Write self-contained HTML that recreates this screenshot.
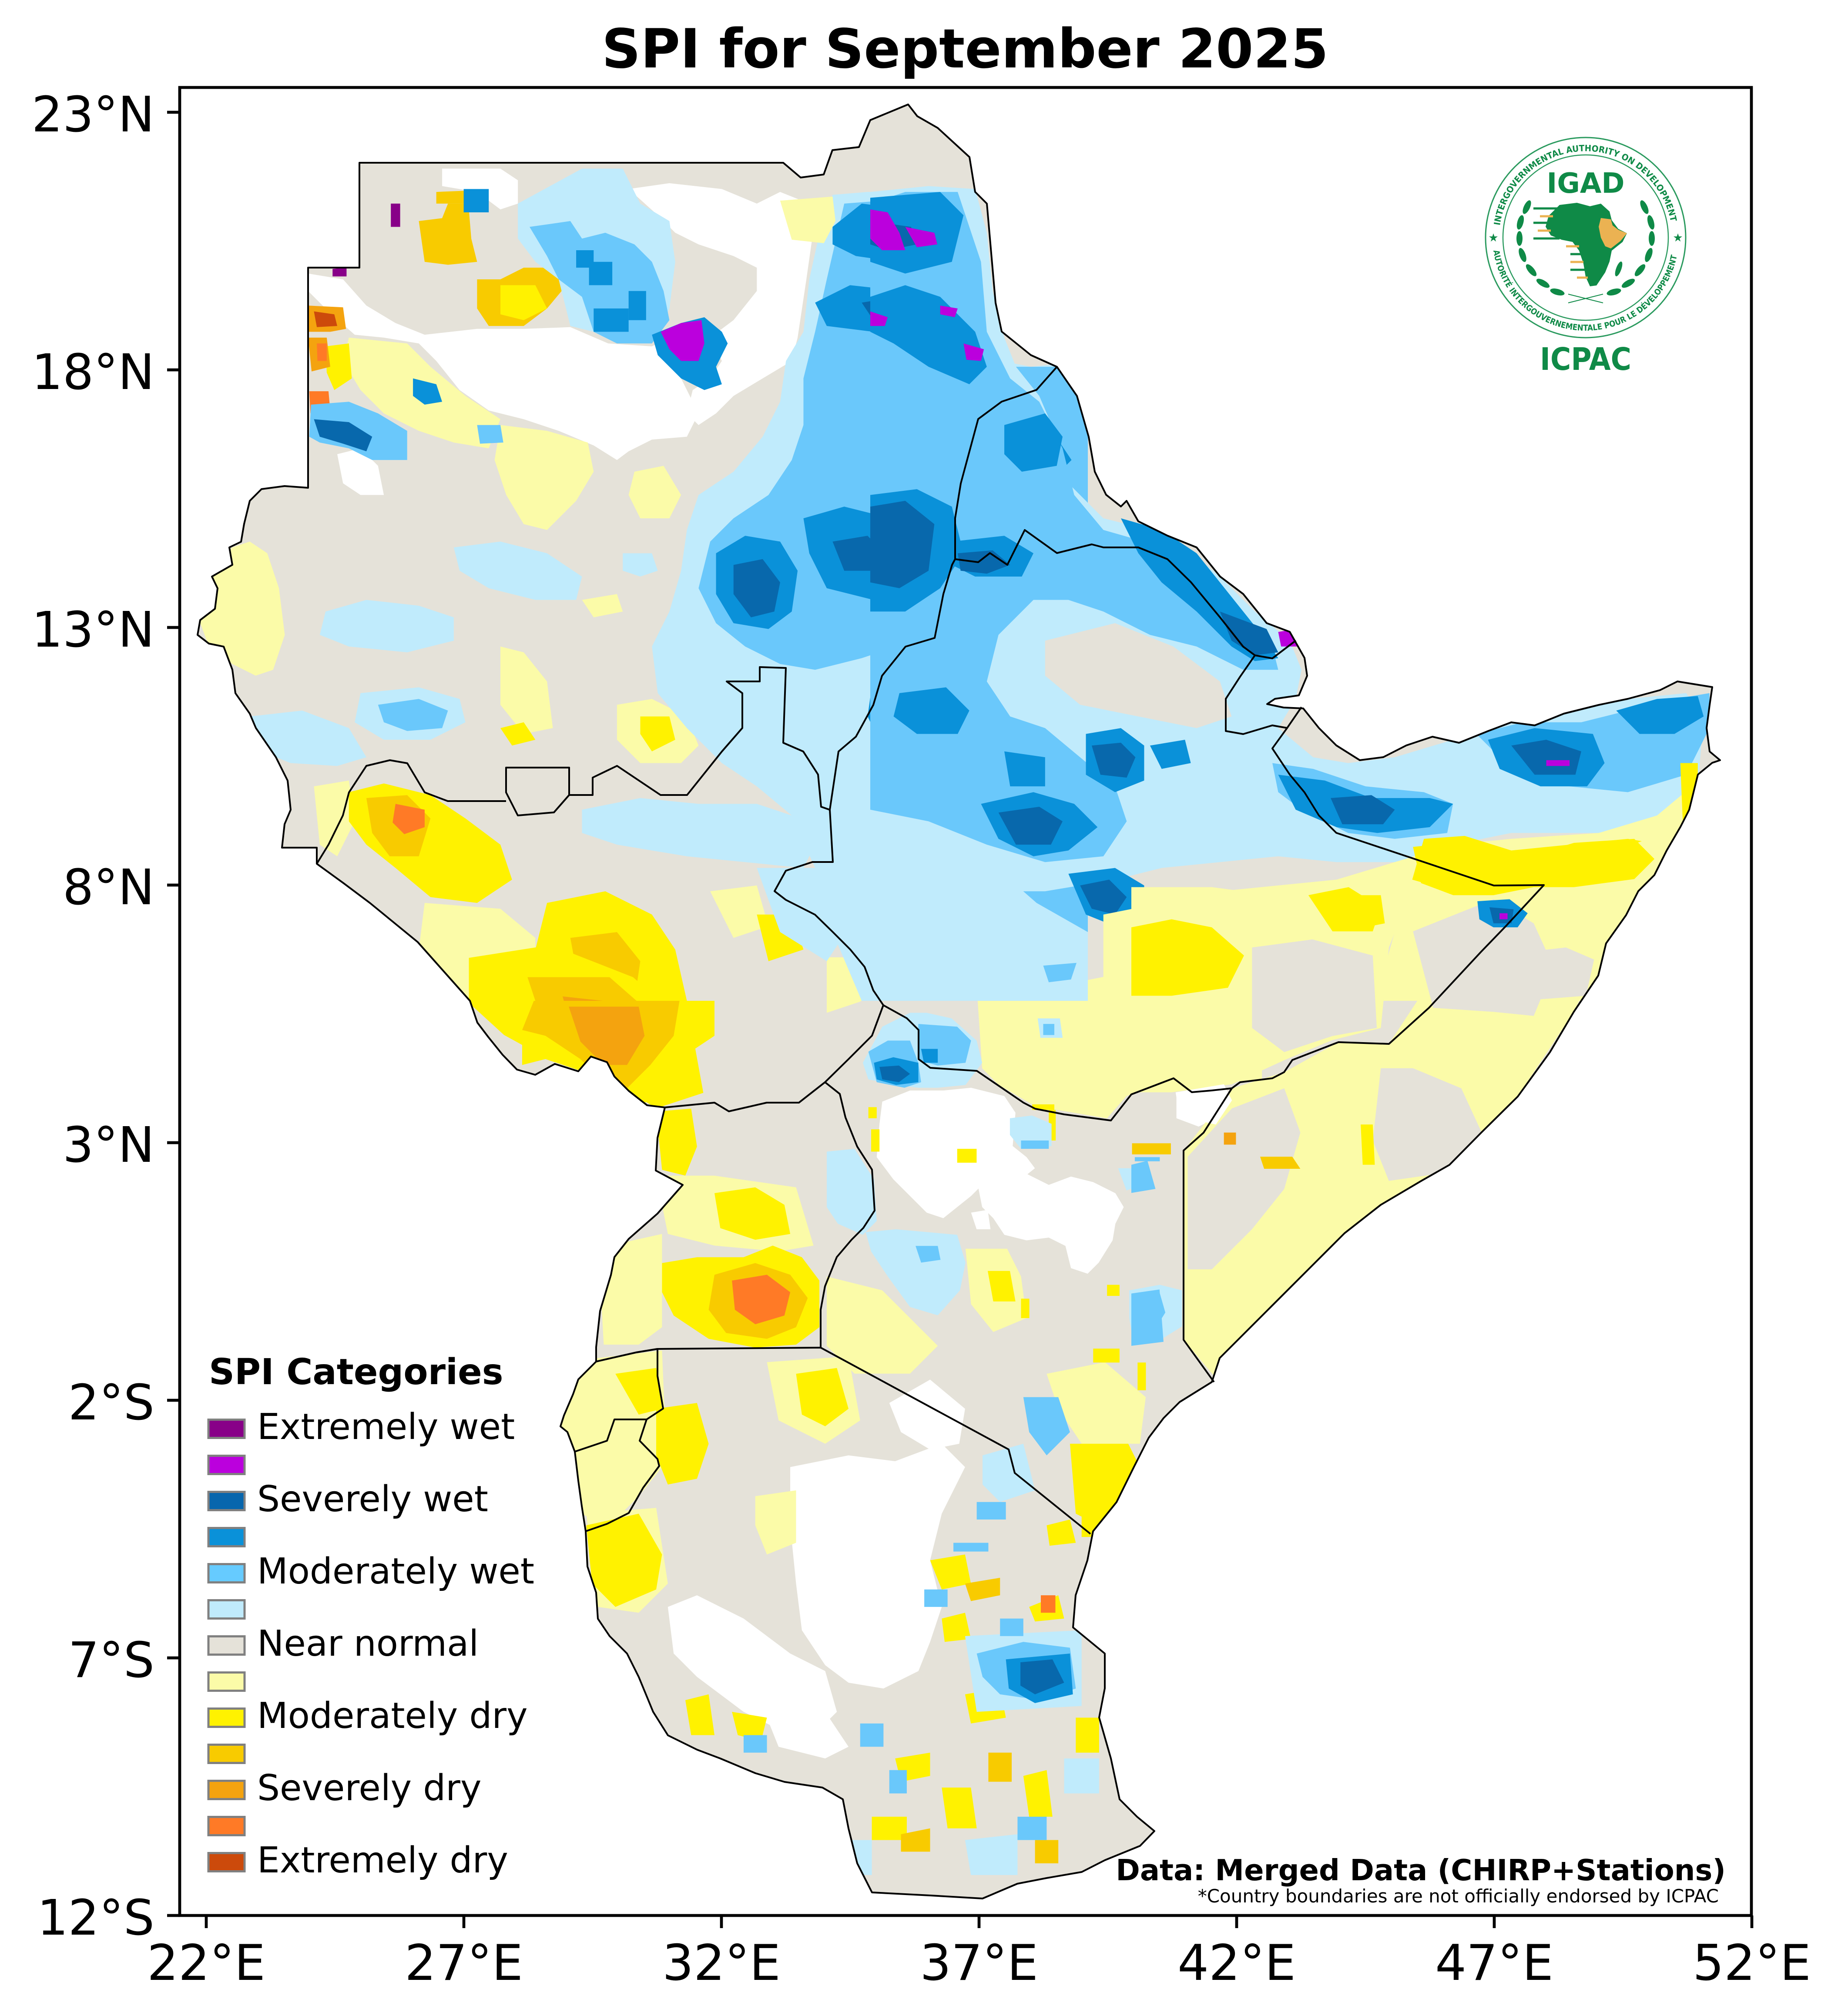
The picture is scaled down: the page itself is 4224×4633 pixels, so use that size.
<!DOCTYPE html>
<html><head><meta charset="utf-8">
<style>html,body{margin:0;padding:0;background:#fff;}svg{display:block;}</style>
</head><body>
<svg xmlns="http://www.w3.org/2000/svg" width="4224" height="4633" viewBox="0 0 4224 4633" font-family="'DejaVu Sans','Liberation Sans',sans-serif">
<style>
.wh{fill:#ffffff}.be{fill:#e5e2d9}.py{fill:#fbfba8}.y{fill:#fff200}.g{fill:#f8cb00}.o{fill:#f4a30f}.or{fill:#ff7a26}.r{fill:#cc4a0b}
.lb{fill:#c0ebfc}.sb{fill:#6ac8fb}.b{fill:#0a91d9}.db{fill:#0868ac}.m{fill:#bb00dd}.p{fill:#880088}
.bd{fill:none;stroke:#000;stroke-width:4;stroke-linejoin:round}
</style>
<defs>
<clipPath id="land"><path id="outl" d="M826,374 L1800,374 1840,408 1893,401 1913,345 1974,338 2000,276 2087,240 2108,267 2155,294 2228,361 2241,441 2268,468 2275,548 2288,696 2302,762 2369,816 2429,843 2475,910 2502,1004 2516,1084 2542,1137 2576,1164 2589,1151 2616,1198 2683,1231 2750,1258 2804,1325 2857,1365 2911,1432 2964,1452 2998,1512 3004,1553 2985,1598 2930,1606 2912,1618 2950,1626 2995,1628 3031,1673 3071,1713 3125,1747 3179,1740 3232,1713 3292,1693 3353,1707 3420,1680 3473,1660 3527,1667 3594,1640 3674,1620 3741,1606 3815,1586 3855,1566 3935,1579 3929,1620 3922,1673 3929,1727 3953,1747 3935,1753 3902,1780 3882,1861 3862,1900 3830,1955 3802,2011 3765,2048 3737,2103 3691,2168 3673,2242 3617,2325 3562,2418 3488,2520 3404,2603 3331,2677 3266,2714 3173,2769 3090,2834 3007,2917 2914,3010 2859,3065 2803,3121 2785,3176 2711,3222 2674,3259 2640,3304 2606,3371 2566,3452 2512,3519 2499,3586 2472,3666 2466,3740 2539,3800 2539,3880 2526,3947 2553,4041 2573,4135 2613,4175 2653,4208 2620,4242 2539,4275 2486,4302 2405,4316 2338,4329 2258,4363 2138,4356 2004,4349 1970,4282 1950,4202 1937,4135 1890,4108 1803,4095 1736,4075 1655,4041 1602,4021 1535,3988 1501,3934 1468,3854 1441,3800 1401,3760 1374,3720 1370,3660 1350,3600 1346,3519 1337,3461 1329,3403 1321,3336 1304,3291 1288,3278 1296,3253 1317,3204 1329,3170 1370,3129 1370,3096 1379,3013 1404,2930 1412,2889 1445,2847 1511,2789 1569,2723 1507,2690 1511,2615 1528,2545 1487,2540 1445,2507 1412,2474 1395,2441 1358,2428 1329,2462 1275,2445 1230,2470 1188,2458 1155,2424 1122,2383 1097,2350 1080,2300 1040,2255 1000,2210 960,2165 905,2120 850,2075 790,2030 728,1985 728,1948 648,1948 654,1894 668,1861 661,1794 634,1740 588,1673 574,1640 541,1593 534,1539 514,1486 480,1479 454,1459 460,1425 494,1399 500,1352 487,1325 534,1298 527,1258 554,1245 561,1204 574,1151 601,1124 654,1117 708,1121 708,615 826,615 Z"/></clipPath>
</defs>
<rect width="4224" height="4633" fill="#fff"/>

<text x="2218" y="155" font-size="124" font-weight="bold" text-anchor="middle">SPI for September 2025</text>

<g clip-path="url(#land)">
<use href="#outl" class="be"/>

<!-- ===== WHITE ===== -->
<g transform="translate(400,200) scale(1.3393)">
<polygon class="wh" points="230,320 290,330 330,375 380,405 430,425 520,415 600,415 680,412 745,440 820,445 850,430 870,445 865,490 885,530 900,560 880,600 820,605 780,625 760,640 720,615 660,590 600,570 540,555 490,520 450,470 420,440 360,430 310,425 270,390 230,350"/>
<polygon class="wh" points="780,175 850,165 940,175 1000,200 1040,180 1090,200 1095,260 1085,330 1070,430 1060,470 1010,500 960,530 930,560 900,580 880,560 890,520 920,500 940,470 920,430 960,400 1000,350 1000,310 960,290 900,270 860,250 830,220"/>
<polygon class="wh" points="460,140 560,140 590,160 590,200 560,210 520,180 460,170"/>
<polygon class="wh" points="280,630 320,620 350,650 360,700 320,700 290,680"/>
</g>
<g transform="translate(1900,2200) scale(0.6378)">
<polygon class="wh" points="200,520 300,480 420,480 520,470 640,500 680,560 670,680 720,720 750,760 700,800 620,790 560,820 520,860 470,900 420,940 360,920 300,860 240,800 180,720 190,600"/>
<polygon class="wh" points="540,800 640,760 720,780 800,820 880,790 960,810 1040,850 1070,900 1040,960 1030,1020 980,1100 940,1140 880,1120 860,1040 800,1010 720,1020 640,1000 600,940 560,900"/>
<polygon class="wh" points="1260,490 1330,480 1440,490 1420,540 1360,600 1340,610 1260,580"/>
<polygon class="wh" points="1390,350 1460,290 1480,330 1480,440 1400,450"/>
<polygon class="wh" points="520,920 580,910 590,980 540,980"/>
</g>
<g transform="translate(1200,2300) scale(1.3393)">
<polygon class="wh" points="460,800 560,780 640,790 720,760 760,800 720,880 700,960 720,1040 700,1100 680,1150 620,1180 560,1170 520,1140 480,1080 470,1000 460,900"/>
<polygon class="wh" points="630,690 700,650 760,700 750,760 700,770 650,740"/>
<polygon class="wh" points="250,1040 300,1020 380,1060 460,1120 520,1150 540,1220 500,1260 440,1250 380,1220 300,1160 260,1120"/>
<polygon class="wh" points="420,1230 520,1220 560,1280 520,1300 440,1280"/>
</g>

<!-- ===== PALE YELLOW / YELLOW / GOLD / ORANGE ===== -->
<g transform="translate(400,200) scale(1.3393)">
<polygon class="py" points="45,850 100,790 130,780 160,800 180,860 190,940 170,1000 140,1010 100,990 60,960 45,920"/>
<polygon class="py" points="300,430 400,440 440,480 500,530 560,570 540,620 480,610 420,590 360,560 320,520 290,470"/>
<polygon class="py" points="560,580 640,590 710,610 720,660 690,710 640,760 600,750 570,700 550,640"/>
<polygon class="py" points="790,660 840,650 870,700 850,740 800,740 780,700"/>
<polygon class="py" points="560,960 600,970 640,1020 650,1100 600,1110 560,1060"/>
<polygon class="py" points="760,1060 820,1050 880,1080 900,1130 870,1160 800,1160 760,1120"/>
<polygon class="py" points="700,880 760,870 770,900 720,910"/>
<polygon class="py" points="240,1200 300,1190 310,1260 280,1320 250,1300"/>
<polygon class="py" points="430,1400 560,1410 620,1460 620,1568 450,1568 420,1480"/>
<polygon class="py" points="920,1380 1000,1370 1020,1440 960,1460"/>
<polygon class="y" points="260,445 300,440 305,500 275,520 262,490"/>
<polygon class="y" points="800,1080 850,1080 860,1120 820,1140 800,1110"/>
<polygon class="y" points="300,1210 360,1195 440,1215 500,1255 560,1300 580,1360 520,1400 440,1390 380,1340 330,1300 300,1260"/>
<polygon class="y" points="640,1400 740,1380 820,1420 860,1480 880,1568 640,1568 620,1480"/>
<polygon class="y" points="1000,1420 1060,1420 1080,1480 1020,1500"/>
<polygon class="y" points="560,1100 600,1090 620,1120 580,1130"/>
<polygon class="g" points="420,230 460,225 470,200 505,200 510,260 520,300 470,305 430,300"/>
<polygon class="g" points="520,330 560,330 600,310 660,310 665,350 640,380 600,410 540,410 520,380"/>
<polygon class="y" points="560,340 620,340 640,380 600,400 560,390"/>
<polygon class="g" points="330,1220 400,1215 440,1255 420,1320 370,1320 340,1280"/>
<polygon class="g" points="680,1460 760,1450 800,1500 790,1568 700,1568"/>
<polygon class="g" points="450,180 500,178 500,200 450,200"/>
<polygon class="o" points="230,375 290,378 295,415 268,420 230,420"/>
<polygon class="o" points="230,430 262,430 268,480 236,488"/>
<polygon class="or" points="380,1230 430,1240 430,1270 395,1282 375,1262"/>
<polygon class="or" points="232,522 265,522 268,555 234,560"/>
<polygon class="or" points="245,440 262,440 262,470 246,470"/>
<polygon class="r" points="240,385 275,390 280,410 245,412"/>
<polygon class="p" points="372,200 388,200 388,240 372,240"/>
<polygon class="p" points="272,312 296,310 296,325 272,325"/>
</g>
<g transform="scale(2.6939,2.9547)">
<polygon class="y" points="400,745 470,735 540,760 590,800 600,850 560,862 520,840 470,825 430,805 400,780"/>
<polygon class="g" points="450,760 520,760 570,800 565,845 520,835 470,815"/>
<polygon class="o" points="480,775 530,780 550,820 520,830 490,810"/>
</g>
<g transform="translate(1200,2300) scale(1.3393)">
<polygon class="y" points="0,0 330,0 330,60 270,100 240,160 200,180 140,150 100,120 40,100 0,110"/>
<polygon class="g" points="20,0 270,0 260,60 220,110 180,150 140,140 100,100 40,60 0,50"/>
<polygon class="o" points="80,10 200,10 210,60 180,110 140,110 100,70"/>
<polygon class="py" points="150,420 240,400 240,560 200,590 140,590 135,500"/>
<polygon class="py" points="230,300 330,300 470,320 500,420 440,430 330,420 250,400"/>
<polygon class="y" points="230,190 290,185 300,250 280,300 240,290"/>
<polygon class="y" points="330,330 400,320 450,350 460,400 400,410 340,390"/>
<polygon class="y" points="240,450 300,440 380,440 430,420 480,440 510,480 510,560 470,590 400,595 320,580 260,540 240,500"/>
<polygon class="g" points="330,470 400,450 460,470 490,510 470,560 420,580 350,570 320,530"/>
<polygon class="or" points="360,480 420,470 460,500 450,540 400,555 365,530"/>
<polygon class="py" points="70,620 240,600 245,720 240,800 200,850 150,900 100,880 80,800 65,720"/>
<polygon class="y" points="160,640 230,630 240,700 200,710"/>
<polygon class="py" points="110,880 230,870 250,1000 200,1050 130,1040"/>
<polygon class="y" points="110,900 200,880 240,950 230,1010 160,1040 120,1000"/>
<polygon class="y" points="230,700 300,690 320,760 300,820 250,830 230,780"/>
<polygon class="py" points="420,620 560,610 580,720 520,760 440,720"/>
<polygon class="y" points="470,640 540,630 560,700 520,730 480,710"/>
<polygon class="py" points="400,850 470,840 470,930 420,950 400,900"/>
<polygon class="py" points="900,640 1000,620 1070,680 1060,760 960,760 920,700"/>
<polygon class="y" points="940,760 1040,760 1060,800 1030,860 990,900 950,880"/>
<polygon class="y" points="960,860 1010,860 1000,920 960,920"/>
<polygon class="y" points="700,960 760,950 770,1000 720,1010"/>
<polygon class="y" points="870,1040 920,1020 930,1060 880,1065"/>
<polygon class="y" points="720,1060 760,1050 770,1095 725,1100"/>
<polygon class="y" points="760,1190 820,1180 830,1230 770,1240"/>
<polygon class="y" points="640,1300 700,1290 700,1330 650,1340"/>
<polygon class="y" points="860,1330 900,1320 910,1400 870,1400"/>
<polygon class="y" points="720,1350 770,1350 780,1420 730,1420"/>
<polygon class="y" points="950,1230 990,1230 990,1290 950,1290"/>
<polygon class="y" points="900,900 940,890 950,930 905,935"/>
<polygon class="y" points="600,1400 660,1400 660,1440 600,1440"/>
<polygon class="y" points="280,1200 320,1190 330,1260 290,1260"/>
<polygon class="y" points="360,1220 420,1230 410,1270 370,1260"/>
<polygon class="g" points="760,1000 820,990 820,1020 770,1030"/>
<polygon class="g" points="650,1430 700,1420 700,1460 650,1460"/>
<polygon class="g" points="800,1290 840,1290 840,1340 800,1340"/>
<polygon class="g" points="880,1440 920,1440 920,1480 880,1480"/>
<polygon class="or" points="890,1020 915,1020 915,1050 890,1050"/>
</g>
<g transform="translate(1900,2200) scale(0.6378)">
<polygon class="py" points="540,100 700,120 900,90 1050,60 1568,160 1568,440 1450,450 1260,430 1080,500 1010,580 830,550 740,530 620,460 560,400"/>
<polygon class="py" points="0,1150 200,1200 300,1300 400,1400 300,1500 100,1500 0,1400"/>
<polygon class="py" points="500,1050 650,1050 700,1150 720,1300 600,1350 520,1250"/>
<polygon class="py" points="0,0 160,0 170,120 120,160 0,200"/>
<polygon class="y" points="1050,0 1568,0 1568,160 1450,170 1350,130 1300,250 1200,220 1100,160 1060,80"/>
<polygon class="y" points="1300,250 1340,230 1340,390 1300,380"/>
<polygon class="y" points="740,530 820,530 820,550 740,550"/>
<polygon class="y" points="800,550 825,550 825,660 800,660"/>
<polygon class="y" points="150,540 180,540 180,580 150,580"/>
<polygon class="y" points="160,620 190,620 190,700 160,700"/>
<polygon class="y" points="470,690 540,690 540,740 470,740"/>
<polygon class="y" points="700,1230 730,1230 730,1300 700,1300"/>
<polygon class="y" points="960,1410 1055,1410 1055,1460 960,1460"/>
<polygon class="y" points="1120,1460 1150,1460 1150,1560 1120,1560"/>
<polygon class="y" points="580,1130 660,1130 680,1240 600,1240"/>
<polygon class="y" points="1010,1180 1055,1180 1055,1220 1010,1220"/>
<polygon class="g" points="1100,670 1240,670 1240,710 1100,710"/>
<polygon class="o" points="1430,620 1470,620 1470,665 1430,665"/>
<polygon class="o" points="1200,460 1240,460 1240,480 1200,480"/>
</g>

<!-- ===== BLUES ===== -->
<g transform="translate(400,200) scale(1.3393)">
<polygon class="lb" points="590,200 700,140 770,140 800,200 850,230 860,300 850,380 830,420 760,440 720,420 680,410 660,330 620,300 590,260"/>
<polygon class="lb" points="1050,470 1080,420 1090,330 1110,240 1130,185 1190,180 1290,180 1365,200 1380,320 1400,400 1420,470 1470,480 1568,470 1568,1568 1180,1568 1130,1450 1100,1340 1060,1250 1000,1200 940,1160 880,1100 830,1040 820,960 850,900 870,830 880,760 900,700 960,660 1010,600 1040,540"/>
<polygon class="lb" points="480,790 560,780 640,800 700,840 690,880 620,880 540,860 490,830"/>
<polygon class="lb" points="260,900 330,880 420,890 480,910 480,950 400,970 300,960 250,940"/>
<polygon class="lb" points="320,1040 420,1030 490,1050 500,1090 440,1120 360,1120 310,1090"/>
<polygon class="lb" points="130,1080 220,1070 300,1100 330,1150 280,1165 200,1160 150,1140"/>
<polygon class="lb" points="700,1240 800,1220 900,1230 1000,1230 1060,1250 1100,1300 1080,1340 980,1330 880,1320 760,1300 700,1280"/>
<polygon class="lb" points="1000,1340 1100,1340 1160,1440 1120,1500 1040,1450"/>
<polygon class="lb" points="770,800 820,800 830,830 800,840 770,830"/>
<polygon class="sb" points="610,240 680,230 700,260 740,250 790,270 820,300 840,350 850,400 820,440 760,440 720,420 700,360 660,330 640,290"/>
<polygon class="sb" points="1080,500 1100,420 1120,330 1150,200 1280,190 1350,210 1380,300 1400,400 1420,480 1500,480 1568,480 1568,1200 1500,1230 1420,1230 1340,1160 1300,1100 1280,1000 1240,960 1180,980 1100,1000 1040,990 980,960 930,920 900,860 920,780 960,740 1020,700 1060,640 1080,580"/>
<polygon class="sb" points="350,1060 420,1050 470,1070 460,1100 400,1105 360,1090"/>
<polygon class="sb" points="235,545 300,540 350,560 400,590 400,640 340,640 300,620 250,610 232,600"/>
<polygon class="sb" points="520,580 560,580 565,610 525,612"/>
<polygon class="sb" points="1300,1250 1400,1220 1568,1200 1568,1450 1480,1400 1400,1330"/>
<polygon class="b" points="497,175 540,175 540,215 497,215"/>
<polygon class="b" points="720,380 780,380 780,420 720,420"/>
<polygon class="b" points="712,300 752,300 752,340 712,340"/>
<polygon class="b" points="780,350 810,350 810,400 780,400"/>
<polygon class="b" points="690,280 720,280 720,310 690,310"/>
<polygon class="b" points="820,425 870,405 910,395 940,420 950,440 930,480 940,510 910,520 870,500 850,480 830,460"/>
<polygon class="b" points="410,500 450,510 460,540 430,545 410,530"/>
<polygon class="b" points="1130,240 1180,200 1260,210 1330,190 1360,250 1350,300 1300,320 1240,300 1170,290 1130,270"/>
<polygon class="b" points="1100,370 1160,340 1250,350 1330,380 1380,420 1400,470 1350,490 1280,470 1200,420 1120,410"/>
<polygon class="b" points="1220,500 1290,490 1340,520 1340,570 1280,570 1230,550"/>
<polygon class="b" points="930,800 980,770 1040,780 1070,830 1060,900 1020,930 960,920 930,870"/>
<polygon class="b" points="1080,740 1150,720 1230,740 1300,770 1320,830 1290,870 1200,880 1120,860 1090,800"/>
<polygon class="b" points="1340,580 1420,560 1500,580 1540,640 1500,680 1420,670 1360,640"/>
<polygon class="b" points="1350,750 1420,740 1500,760 1540,800 1520,840 1450,850 1370,820"/>
<polygon class="b" points="1200,1010 1260,1000 1320,1040 1320,1110 1280,1150 1220,1140 1190,1080"/>
<polygon class="b" points="1370,1020 1450,1000 1520,1040 1530,1100 1480,1130 1400,1120 1370,1070"/>
<polygon class="b" points="1380,1200 1460,1180 1540,1200 1568,1230 1568,1320 1500,1300 1420,1280 1390,1240"/>
<polygon class="b" points="1440,890 1520,880 1568,900 1568,960 1500,960 1450,940"/>
<polygon class="db" points="960,820 1010,810 1040,850 1030,900 990,910 960,870"/>
<polygon class="db" points="1130,780 1190,770 1220,800 1200,830 1150,830"/>
<polygon class="db" points="1180,370 1240,360 1300,390 1300,420 1250,420 1200,400"/>
<polygon class="db" points="1260,440 1330,440 1370,470 1340,490 1280,480"/>
<polygon class="db" points="1200,220 1250,215 1290,250 1250,270 1210,260"/>
<polygon class="db" points="1250,1050 1300,1060 1300,1120 1260,1120"/>
<polygon class="db" points="1410,1230 1480,1220 1540,1240 1520,1280 1450,1280"/>
<polygon class="db" points="1400,1040 1460,1040 1480,1080 1440,1100 1400,1080"/>
<polygon class="db" points="1350,770 1400,760 1420,800 1380,815 1350,800"/>
<polygon class="db" points="240,570 300,575 340,600 330,625 290,612 250,600"/>
<polygon class="m" points="835,420 870,405 905,400 910,440 900,470 870,470 850,450"/>
<polygon class="m" points="1195,205 1225,210 1250,245 1240,280 1210,275 1200,245"/>
<polygon class="m" points="1270,240 1300,245 1310,270 1285,275"/>
<polygon class="m" points="1195,390 1225,395 1225,410 1200,410"/>
<polygon class="m" points="1360,440 1385,450 1390,470 1365,468"/>
<polygon class="m" points="1380,800 1420,795 1420,815 1385,818"/>
<polygon class="py" points="1040,195 1130,188 1135,230 1115,268 1060,262"/>
</g>
<g transform="translate(2000,200) scale(1.3393)">
<polygon class="lb" points="0,180 100,170 180,175 200,250 210,350 230,430 250,480 290,530 320,600 340,680 400,740 480,760 540,790 600,840 660,900 720,950 740,1000 730,1050 700,1100 760,1150 820,1160 900,1150 1000,1120 1100,1090 1200,1070 1300,1050 1400,1040 1430,1080 1420,1200 1380,1260 1300,1280 1100,1280 1000,1300 900,1330 800,1330 700,1320 600,1330 500,1340 420,1360 300,1380 200,1380 100,1360 0,1340"/>
<polygon class="be" points="300,950 420,920 520,960 600,1020 620,1080 560,1100 460,1080 360,1060 300,1010"/>
<polygon class="sb" points="0,200 60,180 150,180 190,300 200,420 240,500 290,540 330,620 350,700 400,760 470,780 520,800 580,850 640,920 690,960 700,1000 640,1000 560,960 480,940 400,900 340,880 280,880 220,940 200,1020 240,1080 300,1100 360,1150 420,1200 440,1260 400,1320 300,1330 200,1300 100,1260 0,1240"/>
<polygon class="sb" points="690,1160 760,1170 850,1200 950,1210 1000,1230 990,1280 900,1290 820,1280 740,1240 700,1210"/>
<polygon class="sb" points="1040,1110 1120,1090 1220,1090 1300,1070 1380,1050 1440,1040 1440,1100 1400,1180 1300,1210 1200,1200 1100,1170"/>
<polygon class="b" points="0,190 120,180 160,220 140,300 60,320 0,300"/>
<polygon class="b" points="0,360 60,340 120,360 180,420 200,480 170,510 100,480 40,440 0,420"/>
<polygon class="b" points="230,580 300,560 330,600 320,650 260,660 230,630"/>
<polygon class="b" points="0,700 80,690 140,720 160,800 120,860 60,900 0,900"/>
<polygon class="b" points="140,780 230,770 280,800 260,840 180,840 140,820"/>
<polygon class="b" points="430,740 500,760 560,800 600,850 640,900 680,950 700,980 660,985 620,960 560,900 500,850 460,800"/>
<polygon class="b" points="370,1110 430,1100 470,1130 470,1190 420,1210 370,1180"/>
<polygon class="b" points="480,1130 540,1120 550,1160 500,1170"/>
<polygon class="b" points="190,1230 280,1210 350,1230 390,1270 340,1310 280,1320 220,1290"/>
<polygon class="b" points="340,1350 420,1340 470,1370 470,1420 420,1440 370,1420"/>
<polygon class="b" points="50,1040 130,1030 170,1070 150,1110 80,1110 40,1080"/>
<polygon class="b" points="700,1180 780,1190 860,1220 960,1220 1000,1230 960,1270 870,1280 800,1270 730,1240"/>
<polygon class="b" points="1060,1120 1140,1100 1240,1110 1260,1160 1230,1200 1150,1200 1080,1170"/>
<polygon class="b" points="1280,1070 1350,1050 1420,1045 1430,1080 1380,1110 1320,1110"/>
<polygon class="b" points="230,1140 300,1150 300,1200 240,1200"/>
<polygon class="db" points="0,720 60,710 110,750 100,830 50,860 0,850"/>
<polygon class="db" points="150,800 210,795 240,820 200,835 155,830"/>
<polygon class="db" points="380,1130 430,1125 455,1150 440,1185 395,1180"/>
<polygon class="db" points="220,1245 290,1235 330,1260 310,1300 250,1300"/>
<polygon class="db" points="360,1370 410,1360 440,1390 420,1420 380,1410"/>
<polygon class="db" points="790,1220 860,1215 900,1240 880,1265 810,1265"/>
<polygon class="db" points="1100,1130 1160,1120 1220,1140 1210,1180 1140,1180"/>
<polygon class="db" points="0,230 70,240 80,270 30,280 0,270"/>
<polygon class="db" points="600,900 680,930 700,970 660,975 620,950"/>
<polygon class="m" points="0,210 30,215 50,250 60,280 20,280 0,260"/>
<polygon class="m" points="60,240 110,250 115,270 80,275"/>
<polygon class="m" points="0,385 30,395 25,410 0,410"/>
<polygon class="m" points="160,440 195,450 190,470 165,468"/>
<polygon class="m" points="120,375 150,380 145,395 120,390"/>
<polygon class="m" points="700,935 730,930 735,960 705,960"/>
<polygon class="m" points="1160,1155 1200,1155 1200,1165 1160,1165"/>
</g>
<g transform="translate(1900,2200) scale(0.6378)">
<polygon class="lb" points="130,380 200,250 300,200 360,200 450,220 540,300 560,380 500,460 400,470 330,470 250,460 150,440"/>
<polygon class="lb" points="0,700 100,690 170,800 180,950 130,1000 40,960 0,900"/>
<polygon class="lb" points="140,990 250,980 360,990 470,1000 500,1100 480,1200 400,1290 300,1260 220,1150 160,1060"/>
<polygon class="lb" points="1050,760 1120,760 1140,820 1080,840"/>
<polygon class="lb" points="1090,1200 1200,1180 1280,1200 1280,1330 1200,1380 1100,1360 1090,1300"/>
<polygon class="lb" points="660,580 740,570 810,600 810,680 700,690 660,640"/>
<polygon class="lb" points="720,0 930,0 930,60 800,100 720,80"/>
<polygon class="lb" points="760,220 840,220 850,290 770,290"/>
<polygon class="sb" points="150,340 220,300 300,300 330,380 340,450 280,470 180,450"/>
<polygon class="sb" points="330,240 470,250 520,300 500,380 400,390 330,370"/>
<polygon class="sb" points="320,1040 400,1040 410,1090 340,1100"/>
<polygon class="sb" points="1120,1220 1200,1210 1220,1280 1170,1360 1120,1340"/>
<polygon class="sb" points="780,30 900,20 880,80 800,90"/>
<polygon class="sb" points="780,240 820,240 820,280 780,280"/>
<polygon class="sb" points="1110,720 1200,720 1200,735 1110,735"/>
<polygon class="sb" points="700,660 800,660 800,690 700,690"/>
<polygon class="b" points="170,380 240,360 330,380 330,450 250,460 180,440"/>
<polygon class="b" points="340,330 400,330 400,380 350,380"/>
<polygon class="db" points="190,395 260,390 300,420 260,450 200,440"/>
</g>
<g transform="translate(1200,2300) scale(1.3393)">
<polygon class="lb" points="790,780 860,760 880,840 820,860 790,830"/>
<polygon class="lb" points="520,1440 600,1440 600,1500 520,1500"/>
<polygon class="lb" points="930,1300 990,1300 990,1360 930,1360"/>
<polygon class="lb" points="760,1440 850,1430 850,1500 770,1500"/>
<polygon class="lb" points="760,1090 960,1080 960,1210 780,1220"/>
<polygon class="sb" points="740,930 800,930 800,945 740,945"/>
<polygon class="sb" points="820,1060 860,1060 860,1090 820,1090"/>
<polygon class="sb" points="580,1240 620,1240 620,1280 580,1280"/>
<polygon class="sb" points="690,1010 730,1010 730,1040 690,1040"/>
<polygon class="sb" points="780,860 830,860 830,890 780,890"/>
<polygon class="sb" points="850,1400 900,1400 900,1440 850,1440"/>
<polygon class="sb" points="630,1320 660,1320 660,1360 630,1360"/>
<polygon class="sb" points="380,1260 420,1260 420,1290 380,1290"/>
<polygon class="sb" points="860,680 920,680 940,740 900,780 870,740"/>
<polygon class="sb" points="780,1120 860,1100 940,1110 950,1180 890,1200 820,1190 790,1160"/>
<polygon class="b" points="830,1130 940,1120 945,1190 880,1205 835,1180"/>
<polygon class="db" points="855,1135 910,1130 930,1170 880,1190 855,1175"/>
</g>

<!-- ===== TOP LAYER: Ogaden / Somalia yellows ===== -->
<g transform="translate(2000,200) scale(1.3393)">
<polygon class="py" points="400,1420 600,1380 800,1360 900,1330 1000,1300 1100,1290 1250,1280 1350,1250 1410,1200 1420,1300 1380,1400 1330,1500 1280,1568 400,1568"/>
<polygon class="be" points="700,1440 820,1420 900,1450 880,1520 780,1540 700,1510"/>
<polygon class="y" points="460,1480 540,1430 620,1400 680,1410 680,1500 640,1568 460,1568"/>
<polygon class="y" points="950,1290 1020,1285 1100,1310 1200,1300 1300,1290 1360,1300 1320,1350 1200,1360 1100,1370 1000,1380 930,1360"/>
<polygon class="y" points="840,1380 880,1375 880,1430 840,1430"/>
<polygon class="y" points="1390,1160 1420,1160 1420,1290 1395,1280"/>
<polygon class="g" points="600,1480 650,1480 660,1568 610,1568"/>
</g>
<g transform="translate(2600,1900) scale(0.9247)">
<polygon class="py" points="0,150 200,150 350,170 500,150 640,110 700,150 640,300 620,500 500,530 380,580 250,640 100,660 0,660"/>
<polygon class="py" points="640,540 900,145 1025,145 1100,100 1230,50 1365,0 1330,60 1260,160 1180,290 1100,460 960,670 800,840 620,940 440,1100 300,1250 210,1370 130,1275 130,805 250,650 380,610 515,535"/>
<polygon class="be" points="300,300 450,280 600,320 610,500 500,520 380,560 300,500"/>
<polygon class="be" points="700,260 900,180 1000,240 1050,350 1000,470 900,460 750,450"/>
<polygon class="be" points="620,600 700,600 820,650 880,780 780,860 640,880 600,780"/>
<polygon class="be" points="140,820 250,700 380,650 420,760 380,900 300,1000 200,1100 140,1100"/>
<polygon class="be" points="900,320 1080,300 1150,330 1130,420 1000,430"/>
<polygon class="wh" points="110,660 230,640 250,680 210,740 120,720"/>
<polygon class="y" points="0,250 100,230 200,250 280,320 240,400 100,420 0,420"/>
<polygon class="y" points="440,170 540,150 620,200 600,260 500,260"/>
<polygon class="y" points="700,50 800,40 900,60 1000,70 1100,40 1250,30 1300,80 1250,130 1100,150 1000,150 900,170 800,170 720,140"/>
<polygon class="y" points="560,170 620,170 630,240 580,250"/>
<polygon class="y" points="570,740 600,740 605,840 575,840"/>
<polygon class="g" points="320,820 400,820 420,850 330,850"/>
<polygon class="o" points="230,760 260,760 260,790 230,790"/>
<polygon class="sb" points="0,840 40,830 60,900 0,910"/>
<polygon class="sb" points="0,1160 70,1150 80,1280 0,1290"/>
<polygon class="b" points="860,185 940,180 985,215 960,250 900,250 865,230"/>
<polygon class="db" points="890,200 950,205 945,240 900,240"/>
<polygon class="m" points="915,215 935,215 935,230 915,230"/>
</g>
</g>

<!-- ===== BORDERS ===== -->
<polyline class="bd" points="728,1985 755,1941 788,1874 802,1821 842,1760 896,1747 936,1754 976,1821 1029,1841 1163,1841"/>
<polygon class="bd" points="1163,1764 1308,1764 1308,1827 1273,1867 1190,1874 1163,1821"/>
<polyline class="bd" points="1308,1827 1362,1827 1362,1787 1418,1760 1518,1827 1579,1827 1659,1727 1706,1673 1706,1593 1670,1566 1746,1566 1746,1533 1806,1535 1800,1707 1846,1727 1880,1780 1887,1854 1907,1861"/>
<polyline class="bd" points="1907,1861 1927,1727 1967,1693 2007,1620 2027,1553 2081,1486 2148,1466 2168,1365 2188,1298 2195,1285 2195,1191 2208,1111 2248,963 2302,923 2382,896 2429,843"/>
<polyline class="bd" points="2195,1285 2248,1292 2275,1271 2315,1298 2355,1218 2429,1271 2509,1251 2536,1258 2616,1258 2683,1285 2737,1338 2804,1419 2857,1486 2884,1506 2924,1513 2978,1472"/>
<polyline class="bd" points="2884,1506 2850,1555 2817,1606 2817,1680 2857,1687 2924,1667 2958,1673 2991,1625"/>
<polyline class="bd" points="2958,1673 2924,1720 2964,1780 2998,1821 3031,1874 3071,1914 3152,1941 3272,1981 3433,2035 3548,2034 3460,2129 3404,2187 3284,2316 3192,2399 3076,2395 2970,2436 2951,2464 2924,2478 2850,2487 2831,2501"/>
<polyline class="bd" points="2831,2501 2766,2603 2720,2644 2720,3079 2790,3176"/>
<polyline class="bd" points="2831,2501 2785,2506 2739,2510 2697,2478 2600,2515 2553,2575 2446,2561 2379,2548 2352,2534 2245,2461 2138,2454 2111,2434 2111,2367 2084,2340 2030,2310"/>
<polyline class="bd" points="1907,1861 1914,1981 1867,1981 1806,2001 1780,2048 1806,2068 1873,2102 1914,2142 1954,2182 1987,2222 2007,2276 2030,2310"/>
<polyline class="bd" points="2030,2310 2004,2380 1950,2434 1896,2487 1836,2534 1762,2534 1675,2554 1642,2534 1528,2545"/>
<polyline class="bd" points="1896,2487 1930,2514 1943,2568 1970,2635 2004,2688 2010,2782 1984,2822 1957,2849 1923,2889 1896,2956 1886,3010 1886,3097"/>
<polyline class="bd" points="1370,3129 1462,3108 1511,3100 1886,3097 2318,3331 2332,3385 2506,3525"/>
<polyline class="bd" points="1462,3108 1511,3100 1511,3162 1524,3237 1486,3262 1412,3262 1395,3311 1321,3336"/>
<polyline class="bd" points="1486,3262 1470,3311 1511,3353 1515,3369 1478,3419 1445,3477 1395,3502 1346,3519"/>
<use href="#outl" class="bd"/>

<!-- ===== AXES ===== -->
<rect x="413" y="201" width="3612" height="4201" fill="none" stroke="#000" stroke-width="6.7"/>
<g stroke="#000" stroke-width="6.7">
<line x1="384" y1="258" x2="413" y2="258"/><line x1="384" y1="850" x2="413" y2="850"/>
<line x1="384" y1="1442" x2="413" y2="1442"/><line x1="384" y1="2034" x2="413" y2="2034"/>
<line x1="384" y1="2626" x2="413" y2="2626"/><line x1="384" y1="3218" x2="413" y2="3218"/>
<line x1="384" y1="3810" x2="413" y2="3810"/><line x1="384" y1="4402" x2="413" y2="4402"/>
<line x1="474" y1="4402" x2="474" y2="4431"/><line x1="1066" y1="4402" x2="1066" y2="4431"/>
<line x1="1658" y1="4402" x2="1658" y2="4431"/><line x1="2250" y1="4402" x2="2250" y2="4431"/>
<line x1="2842" y1="4402" x2="2842" y2="4431"/><line x1="3434" y1="4402" x2="3434" y2="4431"/>
<line x1="4026" y1="4402" x2="4026" y2="4431"/>
</g>
<g font-size="112" text-anchor="end">
<text x="355" y="302">23°N</text><text x="355" y="894">18°N</text>
<text x="355" y="1486">13°N</text><text x="355" y="2078">8°N</text>
<text x="355" y="2670">3°N</text><text x="355" y="3262">2°S</text>
<text x="355" y="3854">7°S</text><text x="355" y="4446">12°S</text>
</g>
<g font-size="113" text-anchor="middle">
<text x="474" y="4550">22°E</text><text x="1066" y="4550">27°E</text>
<text x="1658" y="4550">32°E</text><text x="2250" y="4550">37°E</text>
<text x="2842" y="4550">42°E</text><text x="3434" y="4550">47°E</text>
<text x="4026" y="4550">52°E</text>
</g>

<!-- ===== LEGEND ===== -->
<text x="480" y="3181" font-size="82" font-weight="bold">SPI Categories</text>
<g stroke="#808080" stroke-width="5">
<rect x="479" y="3262.5" width="83" height="42" fill="#880088"/>
<rect x="479" y="3345.5" width="83" height="42" fill="#bb00dd"/>
<rect x="479" y="3428.5" width="83" height="42" fill="#0866ad"/>
<rect x="479" y="3511.5" width="83" height="42" fill="#0a91d9"/>
<rect x="479" y="3594.5" width="83" height="42" fill="#66cbff"/>
<rect x="479" y="3677.5" width="83" height="42" fill="#c0ebfc"/>
<rect x="479" y="3760.5" width="83" height="42" fill="#e5e2d9"/>
<rect x="479" y="3843.5" width="83" height="42" fill="#fbfba8"/>
<rect x="479" y="3926.5" width="83" height="42" fill="#fff200"/>
<rect x="479" y="4009.5" width="83" height="42" fill="#f8cb00"/>
<rect x="479" y="4092.5" width="83" height="42" fill="#f4a30f"/>
<rect x="479" y="4175.5" width="83" height="42" fill="#ff7a26"/>
<rect x="479" y="4258.5" width="83" height="42" fill="#cc4a0b"/>
</g>
<g font-size="82">
<text x="591" y="3307">Extremely wet</text>
<text x="591" y="3473">Severely wet</text>
<text x="591" y="3639">Moderately wet</text>
<text x="591" y="3805">Near normal</text>
<text x="591" y="3971">Moderately dry</text>
<text x="591" y="4137">Severely dry</text>
<text x="591" y="4303">Extremely dry</text>
</g>

<!-- ===== BOTTOM NOTES ===== -->
<text x="3966" y="4321" font-size="67" font-weight="bold" text-anchor="end">Data: Merged Data (CHIRP+Stations)</text>
<text x="3950" y="4372" font-size="42" text-anchor="end">*Country boundaries are not officially endorsed by ICPAC</text>

<!-- ===== LOGO ===== -->
<g transform="translate(3644,546)" fill="#0f8a47">
<circle r="230" fill="none" stroke="#2a9a5e" stroke-width="3"/>
<circle r="190" fill="none" stroke="#2a9a5e" stroke-width="2.5"/>
<path id="arcT" d="M-197,-27.7 A199,199 0 0 1 197,-27.7" fill="none"/>
<path id="arcB" d="M-211.9,29.8 A214,214 0 0 0 211.9,29.8" fill="none"/>
<text font-size="20" font-weight="bold"><textPath href="#arcT" textLength="560" lengthAdjust="spacingAndGlyphs">INTERGOVERNMENTAL AUTHORITY ON DEVELOPMENT</textPath></text>
<text font-size="19" font-weight="bold"><textPath href="#arcB" textLength="600" lengthAdjust="spacingAndGlyphs">AUTORITÉ INTERGOUVERNEMENTALE POUR LE DÉVELOPPEMENT</textPath></text>
<text x="-212" y="9" font-size="26" text-anchor="middle">★</text>
<text x="212" y="9" font-size="26" text-anchor="middle">★</text>
<text x="0" y="-103" font-size="64" font-weight="bold" text-anchor="middle">IGAD</text>
<polygon points="-60,-75 -20,-80 10,-72 35,-78 55,-60 60,-40 75,-20 95,-10 85,10 60,30 55,55 45,80 25,110 10,112 0,90 -5,60 -15,30 -30,10 -55,5 -80,-5 -92,-25 -85,-50"/>
<polygon fill="#ebb252" points="35,-45 58,-42 62,-28 75,-18 95,-10 80,8 58,25 45,20 35,0 30,-25"/>
<ellipse cx="76" cy="72" rx="6" ry="18" transform="rotate(20 76 72)"/>
<g stroke-width="5">
<line x1="-120" y1="-67" x2="-60" y2="-67" stroke="#0f8a47"/>
<line x1="-105" y1="-49" x2="-75" y2="-49" stroke="#ebb252"/>
<line x1="-120" y1="-34" x2="-70" y2="-34" stroke="#0f8a47"/>
<line x1="-110" y1="-16" x2="-80" y2="-16" stroke="#ebb252"/>
<line x1="-120" y1="2" x2="-60" y2="2" stroke="#0f8a47"/>
<line x1="-45" y1="20" x2="-15" y2="20" stroke="#ebb252"/>
<line x1="-35" y1="38" x2="0" y2="38" stroke="#0f8a47"/>
<line x1="-35" y1="56" x2="-5" y2="56" stroke="#ebb252"/>
<line x1="-35" y1="74" x2="0" y2="74" stroke="#0f8a47"/>
<line x1="-20" y1="92" x2="5" y2="92" stroke="#ebb252"/>
</g>
<g>
<ellipse cx="-135" cy="-70" rx="7" ry="17" transform="rotate(25 -135 -70)"/>
<ellipse cx="-150" cy="-35" rx="7" ry="17" transform="rotate(15 -150 -35)"/>
<ellipse cx="-152" cy="2" rx="7" ry="17" transform="rotate(0 -152 2)"/>
<ellipse cx="-145" cy="40" rx="7" ry="17" transform="rotate(-20 -145 40)"/>
<ellipse cx="-125" cy="75" rx="7" ry="17" transform="rotate(-40 -125 75)"/>
<ellipse cx="-98" cy="105" rx="7" ry="17" transform="rotate(-60 -98 105)"/>
<ellipse cx="-65" cy="125" rx="7" ry="17" transform="rotate(-75 -65 125)"/>
<ellipse cx="135" cy="-70" rx="7" ry="17" transform="rotate(-25 135 -70)"/>
<ellipse cx="150" cy="-35" rx="7" ry="17" transform="rotate(-15 150 -35)"/>
<ellipse cx="152" cy="2" rx="7" ry="17" transform="rotate(0 152 2)"/>
<ellipse cx="145" cy="40" rx="7" ry="17" transform="rotate(20 145 40)"/>
<ellipse cx="125" cy="75" rx="7" ry="17" transform="rotate(40 125 75)"/>
<ellipse cx="98" cy="105" rx="7" ry="17" transform="rotate(60 98 105)"/>
<ellipse cx="65" cy="125" rx="7" ry="17" transform="rotate(75 65 125)"/>
</g>
<path d="M-40,150 L40,130 M40,150 L-40,130" stroke="#0f8a47" stroke-width="2" fill="none"/>
<text x="0" y="304" font-size="71" font-weight="bold" text-anchor="middle" textLength="210" lengthAdjust="spacingAndGlyphs">ICPAC</text>
</g>
</svg>
</body></html>
